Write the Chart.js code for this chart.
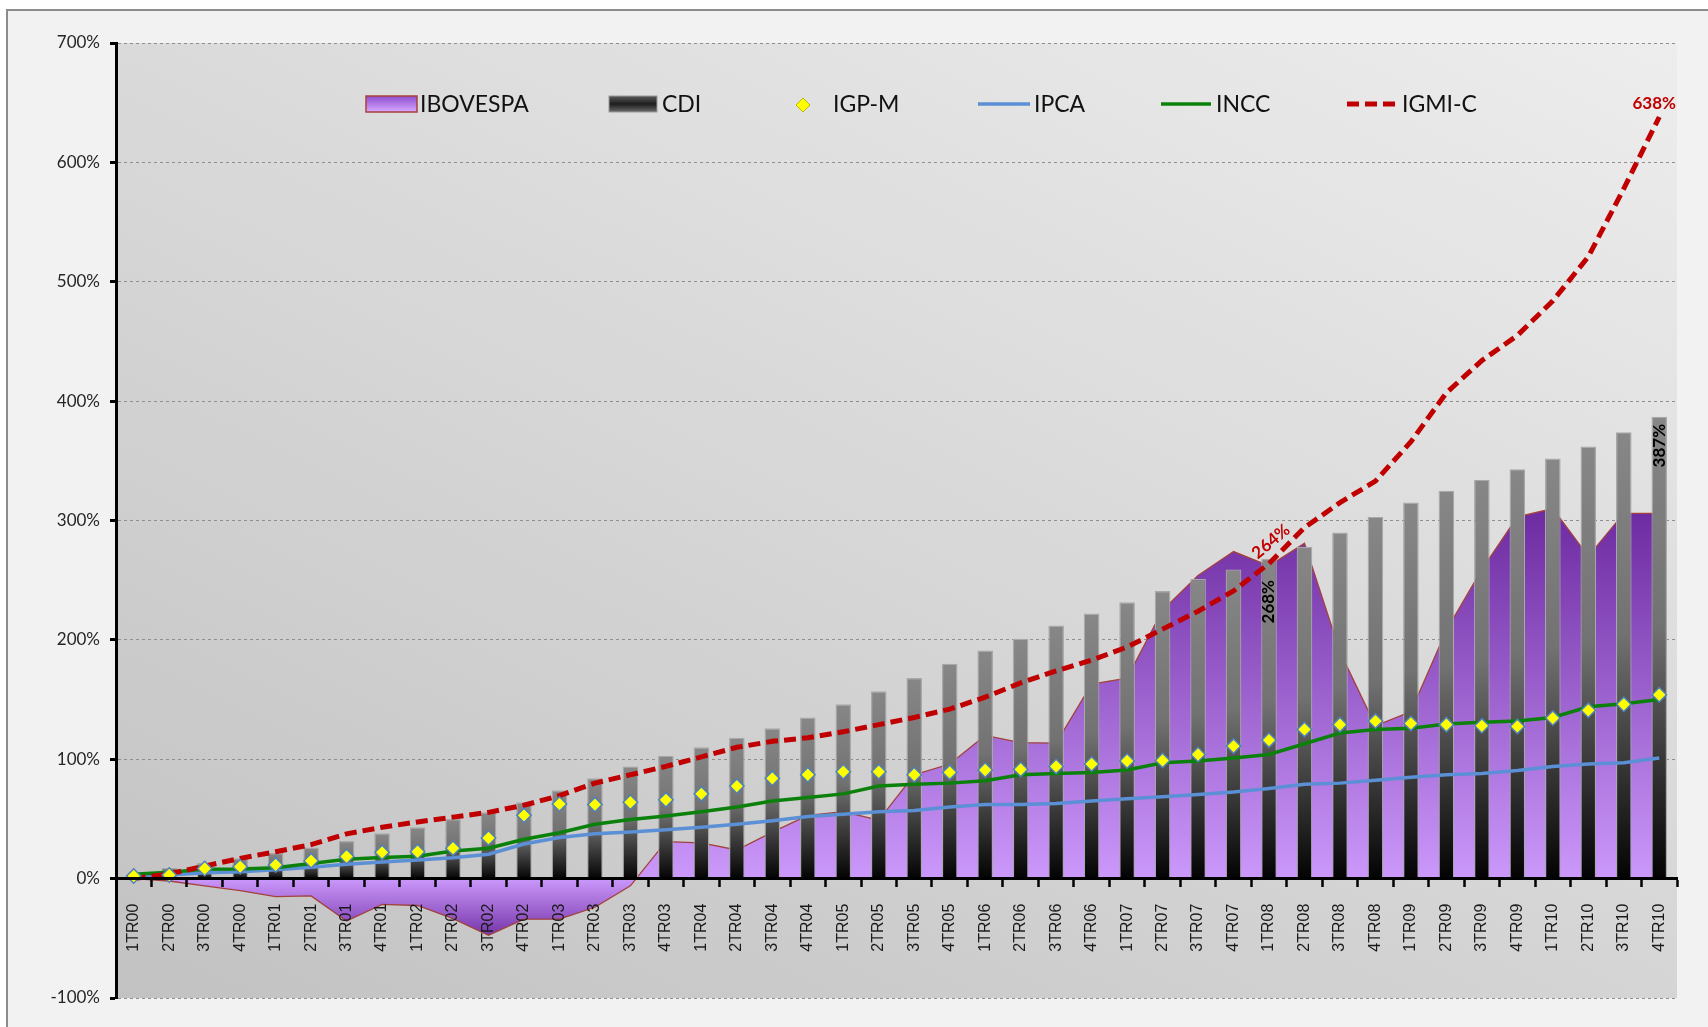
<!DOCTYPE html>
<html>
<head>
<meta charset="utf-8">
<title>IBOVESPA x CDI x índices</title>
<script src="https://cdn.jsdelivr.net/npm/chart.js@4.4.1/dist/chart.umd.min.js"></script>
<style>
    html, body { margin: 0; padding: 0; background: #ffffff; overflow: hidden; }
    #frame {
        position: absolute; left: 6px; top: 9px;
        width: 1720px; height: 1040px;
        border: 2px solid #8c8c8c; background: #f2f2f2;
    }
    #wrap { position: absolute; left: 0; top: 0; width: 1708px; height: 1027px; }
</style>
</head>
<body>
<div id="frame"></div>
<div id="wrap"><canvas id="indexChart"></canvas></div>

<script>

// ==========================================
// Data (cumulative %, quarter by quarter)
// ==========================================

const quarters = [
    "1TR00", "2TR00", "3TR00", "4TR00",
    "1TR01", "2TR01", "3TR01", "4TR01",
    "1TR02", "2TR02", "3TR02", "4TR02",
    "1TR03", "2TR03", "3TR03", "4TR03",
    "1TR04", "2TR04", "3TR04", "4TR04",
    "1TR05", "2TR05", "3TR05", "4TR05",
    "1TR06", "2TR06", "3TR06", "4TR06",
    "1TR07", "2TR07", "3TR07", "4TR07",
    "1TR08", "2TR08", "3TR08", "4TR08",
    "1TR09", "2TR09", "3TR09", "4TR09",
    "1TR10", "2TR10", "3TR10", "4TR10"
];

const ibovespa = [
    0, -2, -6, -10, -15, -14.5, -35.5, -21.5, -22.5, -33.5, -47.5,
    -34, -34, -24, -6, 31, 30, 24, 39, 53, 56, 49,
    87, 96, 120, 114, 113.5, 163, 168, 225, 254, 274, 262,
    281, 190, 128, 140, 208, 259, 303, 310, 270, 306, 306
];

const cdi = [
    3, 9, 13, 17, 21.5, 26, 31.5, 38, 43, 50, 55.5,
    64, 74, 84, 94, 103, 110, 118, 126, 135, 146, 157,
    168, 180, 191, 201, 212, 222, 231.5, 241, 251, 259, 268,
    278, 290, 303, 315, 325, 334, 343, 352, 362, 374, 387
];

const igpm = [
    2.2, 3, 8.5, 10, 11.5, 15, 18.5, 22, 22.5, 25.5, 34,
    53, 62.5, 62, 64, 66, 71, 77.5, 84, 87, 89.5, 89.5,
    87, 89, 91, 91.5, 94, 96, 98.5, 99, 104, 111, 116,
    125, 129, 132, 130, 129, 128, 127.5, 134.5, 141, 146, 154
];

const ipca = [
    1.5, 3, 5, 5.8, 7.5, 9.5, 12, 14, 15.5, 17.5, 20.5,
    29, 34.5, 37.5, 39, 41, 43, 45.5, 48.5, 52, 54, 56,
    57, 60, 62, 62, 63, 65, 67, 68.5, 70.5, 72.5, 75.5,
    79, 80, 82.5, 85, 87, 88, 90.5, 94, 96, 97, 101
];

const incc = [
    3.6, 5.3, 7.8, 8.1, 9.2, 12.6, 16.2, 17.6, 18.8, 23.2, 25.4,
    33, 38.5, 45.5, 49.5, 52.5, 56, 60, 65, 68, 71, 77.5,
    79, 80, 82, 87, 88, 89, 91, 97, 98.6, 101, 104,
    113, 122, 125, 126, 129.5, 131, 132, 135, 144, 146.5, 150
];

const igmic = [
    0, 4, 10.5, 17, 22.5, 28.5, 37.5, 43, 47.5, 51.5, 55.5,
    61.5, 69.5, 80, 87, 94, 102, 110, 115, 118, 123, 129,
    135, 142, 152, 164, 174, 183, 194, 209, 224, 241, 264,
    294, 315, 333, 366, 407, 434, 455, 484, 521, 578, 638
];

const percentTicks = [-100, 0, 100, 200, 300, 400, 500, 600, 700];


// ==========================================
// Gradients
// ==========================================

function barGradient(c) {

    const chart = c.chart;

    if (!chart.chartArea || c.type !== "data") return "#555555";

    const y = chart.scales.y;
    const top = y.getPixelForValue(c.raw);
    const base = y.getPixelForValue(0);

    const g = chart.ctx.createLinearGradient(0, top, 0, base);
    g.addColorStop(0, "#878787");
    g.addColorStop(0.45, "#727272");
    g.addColorStop(1, "#030303");

    return g;

}

function areaGradient(c) {

    const chart = c.chart;

    if (!chart.chartArea) return "#b27ee8";

    const y = chart.scales.y;
    const hi = Math.max(...ibovespa);
    const lo = Math.min(...ibovespa);
    const top = y.getPixelForValue(hi);
    const bottom = y.getPixelForValue(lo);
    const zero = (y.getPixelForValue(0) - top) / (bottom - top);

    const g = chart.ctx.createLinearGradient(0, top, 0, bottom);
    g.addColorStop(0, "#6c2aa0");
    g.addColorStop(zero, "#cb98fb");
    g.addColorStop(1, "#7636aa");

    return g;

}


// ==========================================
// Plot background
// ==========================================

const plotBackground = {

    id: "plotBackground",

    beforeDraw(chart) {

        const { ctx, chartArea: a } = chart;

        const g = ctx.createLinearGradient(a.left, a.bottom, a.left + 712, a.bottom - 1486);
        g.addColorStop(0, "#c2c2c2");
        g.addColorStop(1, "#f0f0f0");

        ctx.save();
        ctx.fillStyle = g;
        ctx.fillRect(a.left, a.top, a.width, a.height);
        ctx.restore();

    }

};


// ==========================================
// Value labels
// ==========================================

function datasetIndex(chart, label) {

    return chart.data.datasets.findIndex(d => d.label === label);

}

const valueLabels = {

    id: "valueLabels",

    afterDatasetsDraw(chart) {

        const { ctx } = chart;

        const red = chart.getDatasetMeta(datasetIndex(chart, "IGMI-C")).data;
        const bars = chart.getDatasetMeta(datasetIndex(chart, "CDI")).data;

        const last = quarters.length - 1;
        const q08 = quarters.indexOf("1TR08");

        ctx.save();
        ctx.font = "bold 17px Lato";
        ctx.textAlign = "center";
        ctx.textBaseline = "middle";

        // IGMI-C last value
        ctx.fillStyle = "#c00000";
        ctx.fillText(Math.round(igmic[last]) + "%", red[last].x - 5, red[last].y - 13);

        // IGMI-C 1TR08, along the line
        ctx.save();
        ctx.translate(red[q08].x + 2, red[q08].y - 22);
        ctx.rotate(-40 * Math.PI / 180);
        ctx.fillText(Math.round(igmic[q08]) + "%", 0, 0);
        ctx.restore();

        // CDI labels inside the bars
        ctx.fillStyle = "#000000";

        ctx.save();
        ctx.translate(bars[q08].x, bars[q08].y + 43);
        ctx.rotate(-Math.PI / 2);
        ctx.fillText(Math.round(cdi[q08]) + "%", 0, 0);
        ctx.restore();

        ctx.save();
        ctx.translate(bars[last].x, bars[last].y + 29);
        ctx.rotate(-Math.PI / 2);
        ctx.fillText(Math.round(cdi[last]) + "%", 0, 0);
        ctx.restore();

        ctx.restore();

    }

};


// ==========================================
// Legend (inside the plot, one row)
// ==========================================

const insideLegend = {

    id: "insideLegend",

    afterDraw(chart) {

        const { ctx } = chart;
        const cy = 105;

        ctx.save();
        ctx.font = "23px Lato";
        ctx.fillStyle = "#111111";
        ctx.textBaseline = "middle";
        ctx.textAlign = "left";

        // IBOVESPA
        let g = ctx.createLinearGradient(0, 96, 0, 112);
        g.addColorStop(0, "#8e4ecf");
        g.addColorStop(1, "#d8a8ff");
        ctx.fillStyle = g;
        ctx.fillRect(366, 96, 51, 16);
        ctx.strokeStyle = "#a8403c";
        ctx.lineWidth = 1.5;
        ctx.strokeRect(366, 96, 51, 16);
        ctx.fillStyle = "#111111";
        ctx.fillText("IBOVESPA", 420, cy);

        // CDI
        g = ctx.createLinearGradient(0, 96, 0, 112);
        g.addColorStop(0, "#5a5a5a");
        g.addColorStop(0.5, "#1e1e1e");
        g.addColorStop(1, "#6a6a6a");
        ctx.fillStyle = g;
        ctx.fillRect(609, 96, 48, 16);
        ctx.strokeStyle = "#9a9a9a";
        ctx.lineWidth = 1;
        ctx.strokeRect(609, 96, 48, 16);
        ctx.fillStyle = "#111111";
        ctx.fillText("CDI", 662, cy);

        // IGP-M
        ctx.beginPath();
        ctx.moveTo(803, cy - 7);
        ctx.lineTo(810, cy);
        ctx.lineTo(803, cy + 7);
        ctx.lineTo(796, cy);
        ctx.closePath();
        ctx.fillStyle = "#ffff00";
        ctx.fill();
        ctx.strokeStyle = "#b8b800";
        ctx.lineWidth = 1;
        ctx.stroke();
        ctx.fillStyle = "#111111";
        ctx.fillText("IGP-M", 833, cy);

        // IPCA
        ctx.lineCap = "butt";
        ctx.strokeStyle = "#5b8fd6";
        ctx.lineWidth = 3.5;
        ctx.beginPath();
        ctx.moveTo(978, cy - 1);
        ctx.lineTo(1030, cy - 1);
        ctx.stroke();
        ctx.fillText("IPCA", 1034, cy);

        // INCC
        ctx.strokeStyle = "#0b800b";
        ctx.beginPath();
        ctx.moveTo(1161, cy - 1);
        ctx.lineTo(1211, cy - 1);
        ctx.stroke();
        ctx.fillText("INCC", 1216, cy);

        // IGMI-C
        ctx.strokeStyle = "#c00000";
        ctx.lineWidth = 5;
        ctx.setLineDash([12, 6]);
        ctx.beginPath();
        ctx.moveTo(1347, cy - 1);
        ctx.lineTo(1396, cy - 1);
        ctx.stroke();
        ctx.setLineDash([]);
        ctx.fillText("IGMI-C", 1402, cy);

        ctx.restore();

    }

};


// ==========================================
// Chart
// ==========================================

const ctx = document.getElementById("indexChart").getContext("2d");

const indexChart = new Chart(ctx, {

    type: "bar",

    data: {

        labels: quarters,

        datasets: [

            {
                type: "line",
                label: "IBOVESPA",
                data: ibovespa,
                fill: "origin",
                backgroundColor: areaGradient,
                borderColor: "#a3413c",
                borderWidth: 1.3,
                pointRadius: 0,
                tension: 0,
                order: 6
            },

            {
                type: "bar",
                label: "CDI",
                data: cdi,
                backgroundColor: barGradient,
                borderColor: "#a8a8a8",
                borderWidth: 1.2,
                barPercentage: 0.44,
                categoryPercentage: 1,
                order: 5
            },

            {
                type: "line",
                label: "IPCA",
                data: ipca,
                borderColor: "#5b8fd6",
                borderWidth: 3.5,
                pointRadius: 0,
                fill: false,
                tension: 0,
                order: 4
            },

            {
                type: "line",
                label: "INCC",
                data: incc,
                borderColor: "#0b800b",
                borderWidth: 3.5,
                pointRadius: 0,
                fill: false,
                tension: 0,
                order: 3
            },

            {
                type: "line",
                label: "IGMI-C",
                data: igmic,
                borderColor: "#c00000",
                borderWidth: 5,
                borderDash: [12, 6],
                pointRadius: 0,
                fill: false,
                tension: 0,
                order: 2
            },

            {
                type: "line",
                label: "IGP-M",
                data: igpm,
                showLine: false,
                pointStyle: "rectRot",
                pointRadius: 7.2,
                pointBackgroundColor: "#ffff00",
                pointBorderColor: "#4f81bd",
                pointBorderWidth: 1.5,
                fill: false,
                order: 1
            }

        ]

    },

    options: {

        responsive: true,
        maintainAspectRatio: false,
        animation: false,

        layout: {
            padding: { top: 43, right: 31, bottom: 29, left: 0 }
        },

        plugins: {
            legend: { display: false },
            tooltip: { enabled: false }
        },

        scales: {

            x: {
                type: "category",
                position: { y: 0 },
                offset: true,
                grid: {
                    z: 1,
                    offset: true,
                    drawOnChartArea: false,
                    drawTicks: true,
                    tickLength: 7,
                    tickColor: "#000000",
                    tickWidth: 2.5
                },
                border: { z: 1, display: true, color: "#000000", width: 3 },
                ticks: {
                    z: 1,
                    autoSkip: false,
                    minRotation: 90,
                    maxRotation: 90,
                    padding: 18,
                    color: "#1a1a1a",
                    font: { family: "Liberation Sans", size: 16 }
                }
            },

            y: {
                type: "linear",
                min: -100,
                max: 700,
                afterBuildTicks: axis => {
                    axis.ticks = percentTicks.map(v => ({ value: v }));
                },
                afterFit: scale => {
                    scale.width = 116;
                },
                grid: {
                    color: "#8f8f8f",
                    lineWidth: 1,
                    tickLength: 6,
                    tickColor: "#000000",
                    tickWidth: 3,
                    tickBorderDash: []
                },
                border: { display: true, color: "#000000", width: 3, dash: [3, 3] },
                ticks: {
                    padding: 10,
                    color: "#262626",
                    font: { family: "Lato", size: 17 },
                    callback: v => v + "%"
                }
            }

        }

    },

    plugins: [plotBackground, valueLabels, insideLegend]

});

</script>
</body>
</html>
